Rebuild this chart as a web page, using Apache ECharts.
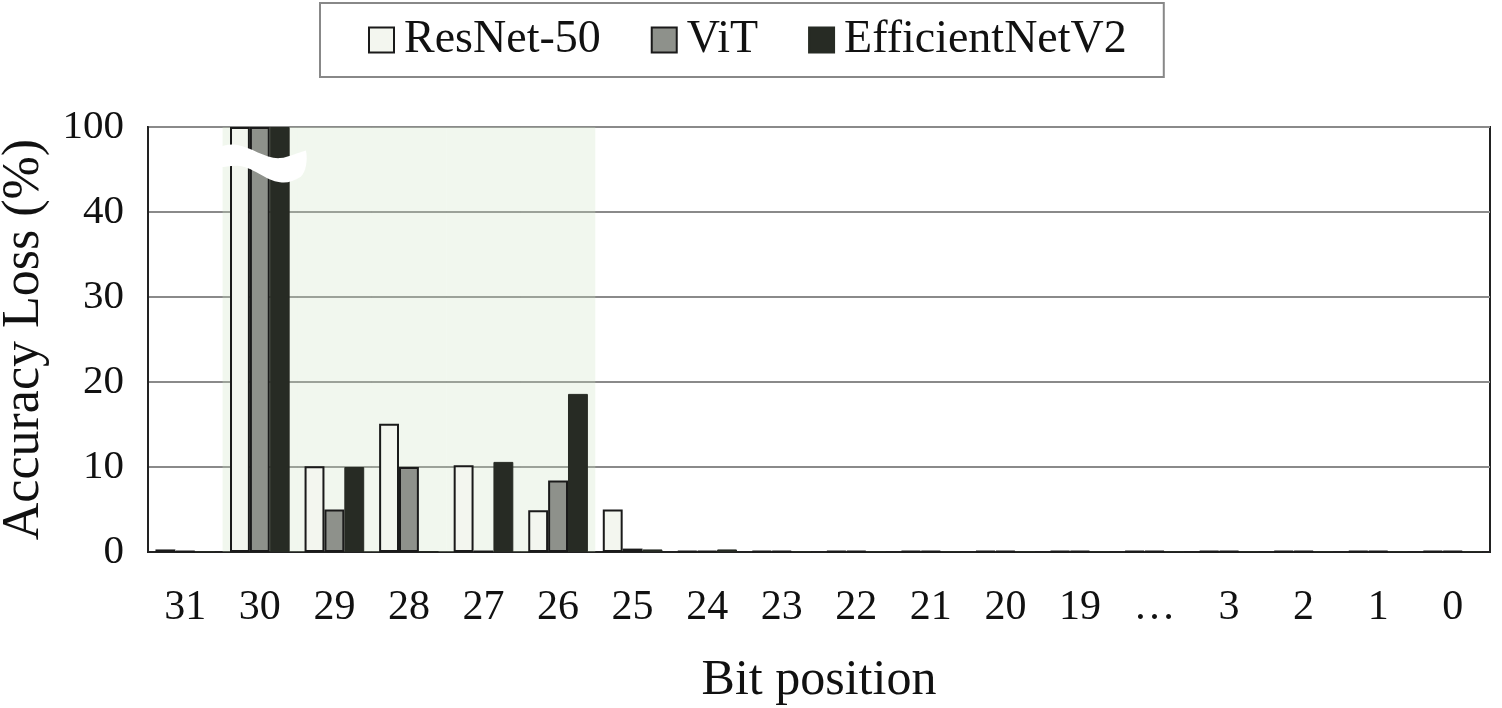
<!DOCTYPE html>
<html>
<head>
<meta charset="utf-8">
<script src="https://cdn.jsdelivr.net/npm/echarts@6/dist/echarts.min.js"></script>
<style>
  html, body { margin: 0; padding: 0; background: #fff; }
  #chart { width: 1502px; height: 708px; }
</style>
</head>
<body>
<div id="chart"></div>
<script>
// bit positions (x categories)
const bits = ["31", "30", "29", "28", "27", "26", "25", "24", "23", "22", "21", "20", "19", "\u2026", "3", "2", "1", "0"];
// accuracy loss (%); axis is broken above 40, so 50 on the scale stands for 100
const resnet = [0.3, 50, 10.1, 15.1, 10.2, 4.9, 5.0, 0.1, 0.1, 0.1, 0.1, 0.1, 0.1, 0.1, 0.1, 0.1, 0.1, 0.1];
const vit = [0.1, 50, 5.0, 10.0, 0.1, 8.4, 0.4, 0.1, 0.1, 0.1, 0.1, 0.1, 0.1, 0.1, 0.1, 0.1, 0.1, 0.1];
const effnet = [0.1, 50, 10.0, 0.1, 10.6, 18.6, 0.3, 0.3, 0.1, 0.1, 0.1, 0.1, 0.1, 0.1, 0.1, 0.1, 0.1, 0.1];
// shaded band over the sensitive bits 30..26
const shade = [null, 50, 50, 50, 50, 50, null, null, null, null, null, null, null, null, null, null, null, null];
const yTicks = { 0: "0", 10: "10", 20: "20", 30: "30", 40: "40", 50: "100" };

const font = "Liberation Serif";
const chart = echarts.init(document.getElementById("chart"));

// wavy "~" break mark
const breakPath = "path://M0,5 C8,1 14,0 22,1 C35,3 50,14 63,13 C72,12 80,8 88,6 C90,14 88,26 83,30 C76,34 70,36 63,35 C50,34 35,20 22,20 C14,20 6,22 0,22 Z";

const option = {
  animation: false,
  legend: {
    top: 3,
    left: 320,
    data: ["ResNet-50", "ViT", "EfficientNetV2"],
    padding: [14, 37, 14, 48],
    borderColor: "#888",
    borderWidth: 2,
    itemGap: 50,
    itemWidth: 25,
    itemHeight: 25,
    icon: "rect",
    textStyle: { fontFamily: font, fontSize: 46, color: "#111", padding: [0, 0, 0, 5] }
  },
  grid: {
    left: 148, right: 12, top: 127, bottom: 156,
    outerBoundsMode: "none",
    show: true, borderColor: "#222", borderWidth: 2, backgroundColor: "transparent"
  },
  xAxis: [
    {
      type: "category",
      data: bits,
      name: "Bit position",
      nameLocation: "middle",
      nameGap: 104,
      nameTextStyle: { fontFamily: font, fontSize: 50, color: "#111" },
      axisTick: { show: false },
      axisLine: { lineStyle: { color: "#222", width: 2 } },
      axisLabel: { fontFamily: font, fontSize: 42, color: "#111", margin: 35 }
    },
    { type: "category", data: bits, show: false }
  ],
  yAxis: {
    type: "value",
    min: 0, max: 50, interval: 10,
    name: "Accuracy Loss (%)",
    nameLocation: "middle",
    nameGap: 98,
    nameTextStyle: { fontFamily: font, fontSize: 52, color: "#111" },
    axisLine: { show: true, lineStyle: { color: "#222", width: 2 } },
    axisTick: { show: false },
    splitLine: { lineStyle: { color: "#8a8a8a", width: 2 } },
    axisLabel: { fontFamily: font, fontSize: 41, color: "#111", margin: 24,
      formatter: v => yTicks[v] }
  },
  series: [
    {
      name: "shade", type: "bar", xAxisIndex: 1, data: shade, barWidth: "100%",
      silent: true, z: 1,
      itemStyle: { color: "rgba(205,228,195,0.28)" }
    },
    {
      name: "ResNet-50", type: "bar", data: resnet, barGap: "0%", barCategoryGap: "20%", z: 3,
      itemStyle: { color: "#f3f6ef", borderColor: "#1a1a1a", borderWidth: 2 }
    },
    {
      name: "ViT", type: "bar", data: vit, z: 3,
      itemStyle: { color: "#8e918b", borderColor: "#1a1a1a", borderWidth: 2 }
    },
    {
      name: "EfficientNetV2", type: "bar", data: effnet, z: 4,
      itemStyle: { color: "#272b24", borderColor: "#272b24", borderWidth: 1 },
      markPoint: {
        symbol: breakPath,
        symbolSize: [92, 38],
        silent: true,
        label: { show: false },
        itemStyle: { color: "#ffffff" },
        data: [{ coord: ["30", 45.7], symbolOffset: [-19, 0] }]
      }
    }
  ]
};
chart.setOption(option);
</script>
</body>
</html>
